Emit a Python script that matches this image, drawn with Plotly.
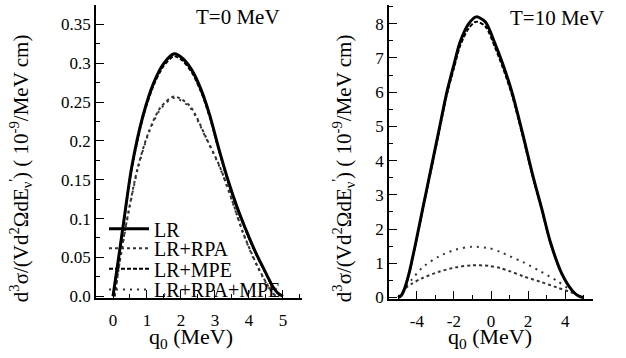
import plotly.graph_objects as go

# ---------------- data ----------------
# T = 0 MeV panel
q0_lr_t0 = [0.0, 0.15, 0.3, 0.55, 0.88, 1.2, 1.5, 1.8, 2.05, 2.32, 2.6, 2.85, 3.1, 3.38, 3.65, 3.94, 4.2, 4.45, 4.7, 4.85, 5.0]
lr_t0 = [0.0, 0.045, 0.091, 0.166, 0.232, 0.275, 0.300, 0.312, 0.306, 0.291, 0.265, 0.2325, 0.192, 0.150, 0.115, 0.0825, 0.056, 0.034, 0.0125, 0.004, 0.0]
lr_mpe_t0 = [0.0, 0.044, 0.090, 0.164, 0.230, 0.272, 0.297, 0.309, 0.303, 0.288, 0.262, 0.230, 0.190, 0.148, 0.113, 0.081, 0.055, 0.033, 0.012, 0.004, 0.0]

q0_rpa_t0 = [0.05, 0.2, 0.38, 0.73, 1.06, 1.4, 1.8, 2.26, 2.74, 3.15, 3.5, 3.82, 4.05, 4.26, 4.5, 4.7, 4.8]
lr_rpa_t0 = [0.0, 0.045, 0.091, 0.166, 0.2125, 0.243, 0.257, 0.245, 0.204, 0.166, 0.124, 0.0825, 0.058, 0.038, 0.018, 0.004, 0.0]
lr_rpa_mpe_t0 = [0.0, 0.044, 0.090, 0.164, 0.211, 0.241, 0.255, 0.243, 0.203, 0.165, 0.123, 0.082, 0.057, 0.037, 0.017, 0.004, 0.0]

# T = 10 MeV panel
q0_lr_t10 = [-5.0, -4.85, -4.7, -4.43, -4.05, -3.68, -3.24, -2.8, -2.38, -2.0, -1.68, -1.2, -0.8, -0.3, 0.2, 0.65, 1.13, 1.7, 2.27, 2.74, 3.2, 3.83, 4.38, 4.7, 4.97]
lr_t10 = [0.0, 0.05, 0.2, 0.68, 1.62, 2.6, 3.75, 4.9, 6.0, 6.8, 7.44, 8.0, 8.2, 8.05, 7.44, 6.8, 6.0, 4.8, 3.53, 2.59, 1.62, 0.68, 0.2, 0.05, 0.0]
lr_mpe_t10 = [0.0, 0.05, 0.2, 0.67, 1.6, 2.57, 3.71, 4.85, 5.93, 6.7, 7.33, 7.87, 8.06, 7.92, 7.33, 6.7, 5.92, 4.74, 3.49, 2.56, 1.6, 0.67, 0.2, 0.05, 0.0]

q0_rpa_t10 = [-5.0, -4.8, -4.6, -4.27, -3.73, -2.81, -1.89, -1.03, -0.1, 0.5, 1.0, 1.73, 2.65, 3.57, 4.27, 4.6, 4.85, 5.0]
lr_rpa_t10 = [0.0, 0.12, 0.27, 0.40, 0.56, 0.75, 0.88, 0.94, 0.92, 0.86, 0.77, 0.62, 0.46, 0.29, 0.16, 0.08, 0.02, 0.0]
lr_rpa_mpe_t10 = [0.0, 0.13, 0.30, 0.52, 0.86, 1.20, 1.40, 1.48, 1.44, 1.33, 1.21, 1.03, 0.77, 0.48, 0.22, 0.08, 0.02, 0.0]

series_names = ["LR", "LR+RPA", "LR+MPE", "LR+RPA+MPE"]

left_y_ticks = [0.0, 0.05, 0.1, 0.15, 0.2, 0.25, 0.3, 0.35]
left_y_text = ["0.0", "0.05", "0.1", "0.15", "0.2", "0.25", "0.3", "0.35"]
left_x_ticks = [0, 1, 2, 3, 4, 5]
right_y_ticks = [0, 1, 2, 3, 4, 5, 6, 7, 8]
right_x_ticks = [-4, -2, 0, 2, 4]
right_x_text = ["-4", "-2", "0", "2", "4"]

# ---------------- styles ----------------
FONT = "Liberation Serif"
styles = {
    "LR": dict(color="black", width=3, dash="solid"),
    "LR+RPA": dict(color="#333333", width=2, dash="dot"),
    "LR+MPE": dict(color="black", width=2, dash="4px,2px"),
    "LR+RPA+MPE": dict(color="#333333", width=2, dash="2px,5px"),
}
legend_of = {"LR": "legend", "LR+RPA": "legend2", "LR+MPE": "legend3", "LR+RPA+MPE": "legend4"}
legend_row_px = {"legend": 234, "legend2": 254, "legend3": 275, "legend4": 296}

fig = go.Figure()

def add(x, y, name, xa, ya, show):
    fig.add_trace(go.Scatter(
        x=x, y=y, mode="lines", name=name,
        line=dict(shape="spline", smoothing=0.8, **styles[name]),
        xaxis=xa, yaxis=ya, showlegend=show, legend=legend_of[name]
    ))

add(q0_rpa_t0, lr_rpa_mpe_t0, "LR+RPA+MPE", "x", "y", True)
add(q0_rpa_t0, lr_rpa_t0, "LR+RPA", "x", "y", True)
add(q0_lr_t0, lr_mpe_t0, "LR+MPE", "x", "y", True)
add(q0_lr_t0, lr_t0, "LR", "x", "y", True)

add(q0_rpa_t10, lr_rpa_mpe_t10, "LR+RPA+MPE", "x2", "y2", False)
add(q0_rpa_t10, lr_rpa_t10, "LR+RPA", "x2", "y2", False)
add(q0_lr_t10, lr_mpe_t10, "LR+MPE", "x2", "y2", False)
add(q0_lr_t10, lr_t10, "LR", "x2", "y2", False)

W, H = 626, 358
def px_x(p):
    return p / W
def px_y(p):
    return 1 - p / H

axis_common = dict(
    showline=True, linecolor="black", linewidth=1.5, mirror=False,
    ticks="inside", ticklen=8, tickwidth=1, tickcolor="black",
    showgrid=False, zeroline=False,
    tickfont=dict(family=FONT, size=17, color="black"),
)

legend_layout = {}
for key, row in legend_row_px.items():
    legend_layout[key] = dict(x=px_x(104), y=px_y(row), xanchor="left", yanchor="middle",
                              bgcolor="rgba(0,0,0,0)", font=dict(family=FONT, size=20, color="black"),
                              itemwidth=40)

fig.update_layout(
    width=W, height=H,
    margin=dict(l=0, r=0, t=0, b=0),
    paper_bgcolor="white", plot_bgcolor="white",
    font=dict(family=FONT, color="black"),
    xaxis=dict(domain=[px_x(96), px_x(302)], range=[-0.5, 5.56], anchor="y",
               tickvals=left_x_ticks, ticklabelstandoff=6,
               minor=dict(ticks="inside", ticklen=4, dtick=0.5, tick0=0, tickcolor="black"),
               **axis_common),
    yaxis=dict(domain=[px_y(305), px_y(5)], range=[-0.0025, 0.375], anchor="x",
               tickvals=left_y_ticks, ticktext=left_y_text,
               minor=dict(ticks="inside", ticklen=4, dtick=0.025, tick0=0, tickcolor="black"),
               **axis_common),
    xaxis2=dict(domain=[px_x(389), px_x(593)], range=[-5.5, 5.5], anchor="y2",
                tickvals=right_x_ticks, ticktext=right_x_text, ticklabelstandoff=6,
                minor=dict(ticks="inside", ticklen=4, dtick=1, tick0=0, tickcolor="black"),
                **axis_common),
    yaxis2=dict(domain=[px_y(306), px_y(5)], range=[-0.05, 8.55], anchor="x2",
                tickvals=right_y_ticks,
                minor=dict(ticks="inside", ticklen=4, dtick=0.5, tick0=0, tickcolor="black"),
                **axis_common),
    showlegend=True,
    **legend_layout,
)

ytitle = "d<sup>3</sup>σ/(Vd<sup>2</sup>ΩdE<sub>ν</sub><sup>'</sup>) ( 10<sup>-9</sup>/MeV cm)"
xtitle = "q<sub>0</sub> (MeV)"

for text, x, y, angle, size in [
    (ytitle, 20, 172, -90, 21),
    (ytitle, 343, 172, -90, 21),
    (xtitle, 191, 346, 0, 22),
    (xtitle, 490, 346, 0, 22),
]:
    fig.add_annotation(xref="paper", yref="paper", showarrow=False, text=text,
                       x=px_x(x), y=px_y(y), textangle=angle,
                       font=dict(family=FONT, size=size, color="black"),
                       xanchor="center", yanchor="middle")

fig.add_annotation(xref="paper", yref="paper", showarrow=False, text="T=0 MeV",
                   x=px_x(238), y=px_y(17), xanchor="center", yanchor="middle",
                   font=dict(family=FONT, size=21, color="black"))
fig.add_annotation(xref="paper", yref="paper", showarrow=False, text="T=10 MeV",
                   x=px_x(557), y=px_y(18), xanchor="center", yanchor="middle",
                   font=dict(family=FONT, size=21, color="black"))

fig.write_html("out.html")
